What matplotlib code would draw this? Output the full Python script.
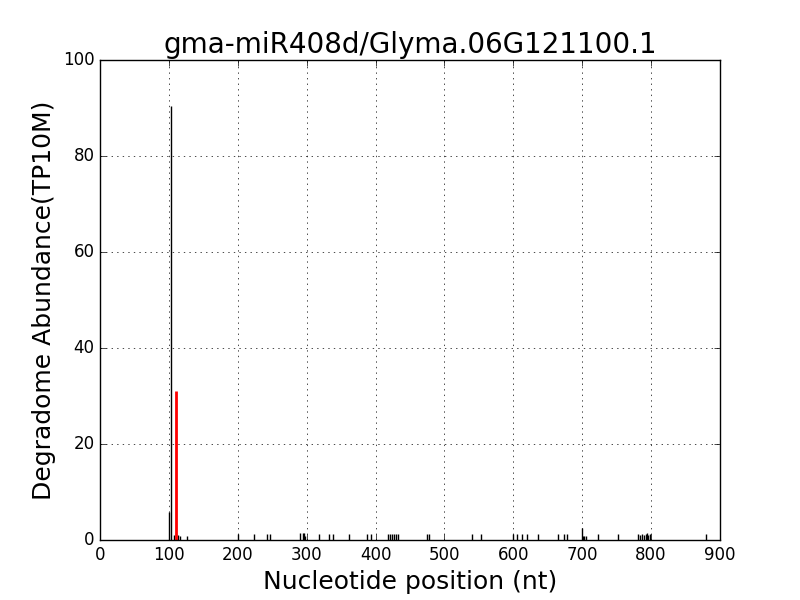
import matplotlib
matplotlib.use("Agg")
import matplotlib.pyplot as plt

plt.style.use("classic")

# degradome reads (position, abundance)
pos = [100, 103, 108, 113, 116, 127, 200, 223, 243, 247,
       291, 294, 296, 298, 318, 333, 338, 362, 388, 393,
       418, 421, 424, 427, 430, 433, 474, 478, 540, 553,
       600, 605, 613, 620, 636, 665, 674, 678, 700, 701,
       703, 705, 723, 752, 781, 784, 787, 790, 792, 794, 796, 798, 880]
abund = [5.8, 90.5, 1.0, 1.0, 0.8, 0.8, 1.3, 1.3, 1.3, 1.3,
         1.4, 1.4, 1.4, 0.9, 1.3, 1.3, 1.3, 1.3, 1.3, 1.3,
         1.3, 1.3, 1.3, 1.3, 1.3, 1.3, 1.3, 1.3, 1.3, 1.3,
         1.3, 1.3, 1.3, 1.3, 1.3, 1.3, 1.3, 1.3, 2.6, 0.8,
         0.8, 0.8, 1.3, 1.3, 1.3, 1.0, 1.3, 1.0, 1.3, 1.5, 1.0, 1.3, 1.3]

# cleavage site
site_pos = [111]
site_abund = [31.0]

fig = plt.figure(figsize=(8, 6), dpi=100)
ax = fig.add_subplot(111)
ax.vlines(pos, 0, abund, colors="black", linewidth=1.0)
ax.vlines(site_pos, 0, site_abund, colors="red", linewidth=2)

ax.set_xlim(0, 900)
ax.set_ylim(0, 100)
ax.set_xticks(range(0, 901, 100))
ax.set_yticks(range(0, 101, 20))
ax.grid(True)
ax.set_title("gma-miR408d/Glyma.06G121100.1", fontsize=20)
ax.set_xlabel("Nucleotide position (nt)", fontsize=18)
ax.set_ylabel("Degradome Abundance(TP10M)", fontsize=18)

fig.savefig("out.png", dpi=100)
